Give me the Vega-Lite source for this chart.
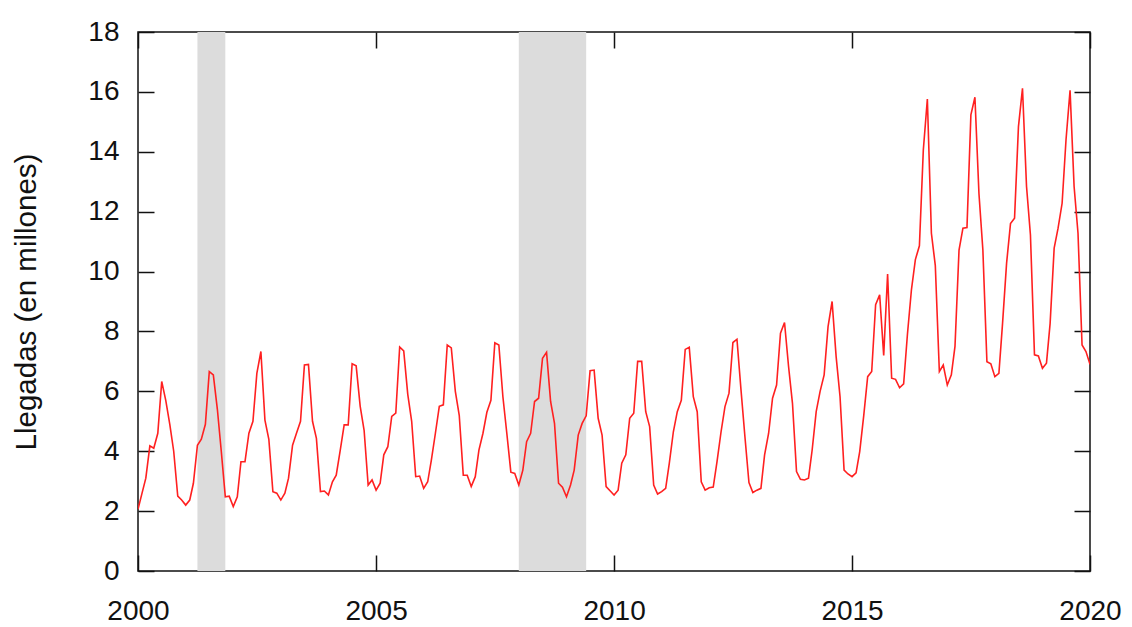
{
  "$schema": "https://vega.github.io/schema/vega-lite/v6.json",
  "width": 952,
  "height": 539,
  "autosize": {"type": "none"},
  "padding": {"left": 138, "top": 32, "right": 42, "bottom": 56},
  "background": "white",
  "config": {
    "view": {"stroke": "#111", "strokeWidth": 1.5},
    "font": "Liberation Sans",
    "axis": {
      "grid": false,
      "domain": false,
      "tickColor": "#111",
      "tickWidth": 1.5,
      "labelFont": "Liberation Sans",
      "labelFontSize": 28,
      "labelColor": "#111",
      "titleFont": "Liberation Sans",
      "titleFontSize": 29.5,
      "titleFontWeight": "normal",
      "titleColor": "#111"
    }
  },
  "datasets": {
    "llegadas": [
      {"fecha": "2000-01-01", "valor": 2.06}, {"fecha": "2000-02-01", "valor": 2.6}, {"fecha": "2000-03-01", "valor": 3.1}, {"fecha": "2000-04-01", "valor": 4.18}, {"fecha": "2000-05-01", "valor": 4.1}, {"fecha": "2000-06-01", "valor": 4.6}, {"fecha": "2000-07-01", "valor": 6.33}, {"fecha": "2000-08-01", "valor": 5.7}, {"fecha": "2000-09-01", "valor": 4.9}, {"fecha": "2000-10-01", "valor": 4.0}, {"fecha": "2000-11-01", "valor": 2.5}, {"fecha": "2000-12-01", "valor": 2.37},
      {"fecha": "2001-01-01", "valor": 2.2}, {"fecha": "2001-02-01", "valor": 2.37}, {"fecha": "2001-03-01", "valor": 2.93}, {"fecha": "2001-04-01", "valor": 4.2}, {"fecha": "2001-05-01", "valor": 4.4}, {"fecha": "2001-06-01", "valor": 4.9}, {"fecha": "2001-07-01", "valor": 6.66}, {"fecha": "2001-08-01", "valor": 6.55}, {"fecha": "2001-09-01", "valor": 5.4}, {"fecha": "2001-10-01", "valor": 4.0}, {"fecha": "2001-11-01", "valor": 2.48}, {"fecha": "2001-12-01", "valor": 2.5},
      {"fecha": "2002-01-01", "valor": 2.15}, {"fecha": "2002-02-01", "valor": 2.48}, {"fecha": "2002-03-01", "valor": 3.65}, {"fecha": "2002-04-01", "valor": 3.65}, {"fecha": "2002-05-01", "valor": 4.6}, {"fecha": "2002-06-01", "valor": 5.0}, {"fecha": "2002-07-01", "valor": 6.6}, {"fecha": "2002-08-01", "valor": 7.33}, {"fecha": "2002-09-01", "valor": 5.04}, {"fecha": "2002-10-01", "valor": 4.4}, {"fecha": "2002-11-01", "valor": 2.65}, {"fecha": "2002-12-01", "valor": 2.6},
      {"fecha": "2003-01-01", "valor": 2.37}, {"fecha": "2003-02-01", "valor": 2.6}, {"fecha": "2003-03-01", "valor": 3.1}, {"fecha": "2003-04-01", "valor": 4.2}, {"fecha": "2003-05-01", "valor": 4.6}, {"fecha": "2003-06-01", "valor": 5.0}, {"fecha": "2003-07-01", "valor": 6.88}, {"fecha": "2003-08-01", "valor": 6.9}, {"fecha": "2003-09-01", "valor": 5.0}, {"fecha": "2003-10-01", "valor": 4.43}, {"fecha": "2003-11-01", "valor": 2.65}, {"fecha": "2003-12-01", "valor": 2.67},
      {"fecha": "2004-01-01", "valor": 2.54}, {"fecha": "2004-02-01", "valor": 2.98}, {"fecha": "2004-03-01", "valor": 3.2}, {"fecha": "2004-04-01", "valor": 4.04}, {"fecha": "2004-05-01", "valor": 4.88}, {"fecha": "2004-06-01", "valor": 4.88}, {"fecha": "2004-07-01", "valor": 6.92}, {"fecha": "2004-08-01", "valor": 6.85}, {"fecha": "2004-09-01", "valor": 5.5}, {"fecha": "2004-10-01", "valor": 4.7}, {"fecha": "2004-11-01", "valor": 2.87}, {"fecha": "2004-12-01", "valor": 3.04},
      {"fecha": "2005-01-01", "valor": 2.7}, {"fecha": "2005-02-01", "valor": 2.93}, {"fecha": "2005-03-01", "valor": 3.88}, {"fecha": "2005-04-01", "valor": 4.15}, {"fecha": "2005-05-01", "valor": 5.16}, {"fecha": "2005-06-01", "valor": 5.27}, {"fecha": "2005-07-01", "valor": 7.48}, {"fecha": "2005-08-01", "valor": 7.35}, {"fecha": "2005-09-01", "valor": 5.9}, {"fecha": "2005-10-01", "valor": 5.0}, {"fecha": "2005-11-01", "valor": 3.15}, {"fecha": "2005-12-01", "valor": 3.17},
      {"fecha": "2006-01-01", "valor": 2.76}, {"fecha": "2006-02-01", "valor": 2.98}, {"fecha": "2006-03-01", "valor": 3.7}, {"fecha": "2006-04-01", "valor": 4.6}, {"fecha": "2006-05-01", "valor": 5.5}, {"fecha": "2006-06-01", "valor": 5.55}, {"fecha": "2006-07-01", "valor": 7.55}, {"fecha": "2006-08-01", "valor": 7.45}, {"fecha": "2006-09-01", "valor": 6.0}, {"fecha": "2006-10-01", "valor": 5.2}, {"fecha": "2006-11-01", "valor": 3.2}, {"fecha": "2006-12-01", "valor": 3.2},
      {"fecha": "2007-01-01", "valor": 2.82}, {"fecha": "2007-02-01", "valor": 3.15}, {"fecha": "2007-03-01", "valor": 4.04}, {"fecha": "2007-04-01", "valor": 4.6}, {"fecha": "2007-05-01", "valor": 5.3}, {"fecha": "2007-06-01", "valor": 5.7}, {"fecha": "2007-07-01", "valor": 7.62}, {"fecha": "2007-08-01", "valor": 7.55}, {"fecha": "2007-09-01", "valor": 5.82}, {"fecha": "2007-10-01", "valor": 4.6}, {"fecha": "2007-11-01", "valor": 3.3}, {"fecha": "2007-12-01", "valor": 3.26},
      {"fecha": "2008-01-01", "valor": 2.87}, {"fecha": "2008-02-01", "valor": 3.37}, {"fecha": "2008-03-01", "valor": 4.32}, {"fecha": "2008-04-01", "valor": 4.6}, {"fecha": "2008-05-01", "valor": 5.66}, {"fecha": "2008-06-01", "valor": 5.77}, {"fecha": "2008-07-01", "valor": 7.1}, {"fecha": "2008-08-01", "valor": 7.3}, {"fecha": "2008-09-01", "valor": 5.66}, {"fecha": "2008-10-01", "valor": 4.93}, {"fecha": "2008-11-01", "valor": 2.93}, {"fecha": "2008-12-01", "valor": 2.8},
      {"fecha": "2009-01-01", "valor": 2.48}, {"fecha": "2009-02-01", "valor": 2.87}, {"fecha": "2009-03-01", "valor": 3.37}, {"fecha": "2009-04-01", "valor": 4.54}, {"fecha": "2009-05-01", "valor": 4.93}, {"fecha": "2009-06-01", "valor": 5.18}, {"fecha": "2009-07-01", "valor": 6.69}, {"fecha": "2009-08-01", "valor": 6.71}, {"fecha": "2009-09-01", "valor": 5.1}, {"fecha": "2009-10-01", "valor": 4.54}, {"fecha": "2009-11-01", "valor": 2.82}, {"fecha": "2009-12-01", "valor": 2.68},
      {"fecha": "2010-01-01", "valor": 2.54}, {"fecha": "2010-02-01", "valor": 2.7}, {"fecha": "2010-03-01", "valor": 3.6}, {"fecha": "2010-04-01", "valor": 3.88}, {"fecha": "2010-05-01", "valor": 5.1}, {"fecha": "2010-06-01", "valor": 5.27}, {"fecha": "2010-07-01", "valor": 7.0}, {"fecha": "2010-08-01", "valor": 7.0}, {"fecha": "2010-09-01", "valor": 5.32}, {"fecha": "2010-10-01", "valor": 4.82}, {"fecha": "2010-11-01", "valor": 2.87}, {"fecha": "2010-12-01", "valor": 2.57},
      {"fecha": "2011-01-01", "valor": 2.65}, {"fecha": "2011-02-01", "valor": 2.76}, {"fecha": "2011-03-01", "valor": 3.6}, {"fecha": "2011-04-01", "valor": 4.65}, {"fecha": "2011-05-01", "valor": 5.32}, {"fecha": "2011-06-01", "valor": 5.7}, {"fecha": "2011-07-01", "valor": 7.4}, {"fecha": "2011-08-01", "valor": 7.47}, {"fecha": "2011-09-01", "valor": 5.82}, {"fecha": "2011-10-01", "valor": 5.32}, {"fecha": "2011-11-01", "valor": 2.98}, {"fecha": "2011-12-01", "valor": 2.7},
      {"fecha": "2012-01-01", "valor": 2.78}, {"fecha": "2012-02-01", "valor": 2.8}, {"fecha": "2012-03-01", "valor": 3.65}, {"fecha": "2012-04-01", "valor": 4.65}, {"fecha": "2012-05-01", "valor": 5.49}, {"fecha": "2012-06-01", "valor": 5.94}, {"fecha": "2012-07-01", "valor": 7.63}, {"fecha": "2012-08-01", "valor": 7.74}, {"fecha": "2012-09-01", "valor": 6.05}, {"fecha": "2012-10-01", "valor": 4.49}, {"fecha": "2012-11-01", "valor": 2.95}, {"fecha": "2012-12-01", "valor": 2.62},
      {"fecha": "2013-01-01", "valor": 2.7}, {"fecha": "2013-02-01", "valor": 2.76}, {"fecha": "2013-03-01", "valor": 3.88}, {"fecha": "2013-04-01", "valor": 4.6}, {"fecha": "2013-05-01", "valor": 5.77}, {"fecha": "2013-06-01", "valor": 6.21}, {"fecha": "2013-07-01", "valor": 7.94}, {"fecha": "2013-08-01", "valor": 8.3}, {"fecha": "2013-09-01", "valor": 6.83}, {"fecha": "2013-10-01", "valor": 5.6}, {"fecha": "2013-11-01", "valor": 3.32}, {"fecha": "2013-12-01", "valor": 3.06},
      {"fecha": "2014-01-01", "valor": 3.04}, {"fecha": "2014-02-01", "valor": 3.1}, {"fecha": "2014-03-01", "valor": 4.04}, {"fecha": "2014-04-01", "valor": 5.32}, {"fecha": "2014-05-01", "valor": 6.0}, {"fecha": "2014-06-01", "valor": 6.55}, {"fecha": "2014-07-01", "valor": 8.16}, {"fecha": "2014-08-01", "valor": 9.0}, {"fecha": "2014-09-01", "valor": 7.16}, {"fecha": "2014-10-01", "valor": 5.82}, {"fecha": "2014-11-01", "valor": 3.37}, {"fecha": "2014-12-01", "valor": 3.24},
      {"fecha": "2015-01-01", "valor": 3.15}, {"fecha": "2015-02-01", "valor": 3.28}, {"fecha": "2015-03-01", "valor": 3.99}, {"fecha": "2015-04-01", "valor": 5.2}, {"fecha": "2015-05-01", "valor": 6.49}, {"fecha": "2015-06-01", "valor": 6.66}, {"fecha": "2015-07-01", "valor": 8.89}, {"fecha": "2015-08-01", "valor": 9.22}, {"fecha": "2015-09-01", "valor": 7.2}, {"fecha": "2015-10-01", "valor": 9.92}, {"fecha": "2015-11-01", "valor": 6.44}, {"fecha": "2015-12-01", "valor": 6.4},
      {"fecha": "2016-01-01", "valor": 6.12}, {"fecha": "2016-02-01", "valor": 6.25}, {"fecha": "2016-03-01", "valor": 7.9}, {"fecha": "2016-04-01", "valor": 9.4}, {"fecha": "2016-05-01", "valor": 10.4}, {"fecha": "2016-06-01", "valor": 10.86}, {"fecha": "2016-07-01", "valor": 14.06}, {"fecha": "2016-08-01", "valor": 15.76}, {"fecha": "2016-09-01", "valor": 11.28}, {"fecha": "2016-10-01", "valor": 10.2}, {"fecha": "2016-11-01", "valor": 6.66}, {"fecha": "2016-12-01", "valor": 6.88},
      {"fecha": "2017-01-01", "valor": 6.21}, {"fecha": "2017-02-01", "valor": 6.55}, {"fecha": "2017-03-01", "valor": 7.5}, {"fecha": "2017-04-01", "valor": 10.72}, {"fecha": "2017-05-01", "valor": 11.45}, {"fecha": "2017-06-01", "valor": 11.47}, {"fecha": "2017-07-01", "valor": 15.23}, {"fecha": "2017-08-01", "valor": 15.82}, {"fecha": "2017-09-01", "valor": 12.6}, {"fecha": "2017-10-01", "valor": 10.72}, {"fecha": "2017-11-01", "valor": 6.99}, {"fecha": "2017-12-01", "valor": 6.92},
      {"fecha": "2018-01-01", "valor": 6.49}, {"fecha": "2018-02-01", "valor": 6.6}, {"fecha": "2018-03-01", "valor": 8.27}, {"fecha": "2018-04-01", "valor": 10.28}, {"fecha": "2018-05-01", "valor": 11.6}, {"fecha": "2018-06-01", "valor": 11.78}, {"fecha": "2018-07-01", "valor": 14.84}, {"fecha": "2018-08-01", "valor": 16.12}, {"fecha": "2018-09-01", "valor": 12.84}, {"fecha": "2018-10-01", "valor": 11.22}, {"fecha": "2018-11-01", "valor": 7.22}, {"fecha": "2018-12-01", "valor": 7.18},
      {"fecha": "2019-01-01", "valor": 6.77}, {"fecha": "2019-02-01", "valor": 6.94}, {"fecha": "2019-03-01", "valor": 8.27}, {"fecha": "2019-04-01", "valor": 10.78}, {"fecha": "2019-05-01", "valor": 11.45}, {"fecha": "2019-06-01", "valor": 12.28}, {"fecha": "2019-07-01", "valor": 14.4}, {"fecha": "2019-08-01", "valor": 16.05}, {"fecha": "2019-09-01", "valor": 12.84}, {"fecha": "2019-10-01", "valor": 11.28}, {"fecha": "2019-11-01", "valor": 7.55}, {"fecha": "2019-12-01", "valor": 7.33},
      {"fecha": "2020-01-01", "valor": 6.9}
    ],
    "recesiones": [
      {"inicio": "2001-04-01", "fin": "2001-11-01"},
      {"inicio": "2008-01-01", "fin": "2009-06-01"}
    ]
  },
  "resolve": {"axis": {"x": "independent", "y": "independent"}},
  "layer": [
    {
      "data": {"name": "recesiones"},
      "mark": {"type": "rect", "color": "#dcdcdc", "opacity": 1},
      "encoding": {
        "x": {
          "field": "inicio", "type": "temporal",
          "scale": {"type": "utc", "domain": [{"year": 2000, "month": 1, "date": 1, "utc": true}, {"year": 2020, "month": 1, "date": 1, "utc": true}]},
          "axis": {
            "orient": "bottom", "title": null, "format": "%Y",
            "values": [{"year": 2000, "month": 1, "date": 1, "utc": true}, {"year": 2005, "month": 1, "date": 1, "utc": true}, {"year": 2010, "month": 1, "date": 1, "utc": true}, {"year": 2015, "month": 1, "date": 1, "utc": true}, {"year": 2020, "month": 1, "date": 1, "utc": true}],
            "tickSize": -16, "labelPadding": 42, "labelFlush": false, "labelOverlap": false, "labelBaseline": "top"
          }
        },
        "x2": {"field": "fin"}
      }
    },
    {
      "data": {"name": "llegadas"},
      "mark": {"type": "line", "color": "#ff2020", "strokeWidth": 1.6, "clip": true},
      "encoding": {
        "x": {
          "field": "fecha", "type": "temporal",
          "axis": {
            "orient": "top", "title": null, "labels": false,
            "values": [{"year": 2000, "month": 1, "date": 1, "utc": true}, {"year": 2005, "month": 1, "date": 1, "utc": true}, {"year": 2010, "month": 1, "date": 1, "utc": true}, {"year": 2015, "month": 1, "date": 1, "utc": true}, {"year": 2020, "month": 1, "date": 1, "utc": true}],
            "tickSize": -16
          }
        },
        "y": {
          "field": "valor", "type": "quantitative",
          "scale": {"domain": [0, 18], "nice": false, "zero": true},
          "axis": {
            "orient": "left", "title": "Llegadas (en millones)",
            "values": [0, 2, 4, 6, 8, 10, 12, 14, 16, 18],
            "tickSize": -16, "labelPadding": 35,
            "titleAngle": -90, "titleX": -112, "titleY": 269.5,
            "titleAlign": "center", "titleBaseline": "middle"
          }
        }
      }
    },
    {
      "data": {"name": "llegadas"},
      "mark": {"type": "line", "opacity": 0},
      "encoding": {
        "x": {"field": "fecha", "type": "temporal", "axis": null},
        "y": {
          "field": "valor", "type": "quantitative",
          "axis": {
            "orient": "right", "title": null, "labels": false,
            "values": [0, 2, 4, 6, 8, 10, 12, 14, 16, 18],
            "tickSize": -16
          }
        }
      }
    }
  ]
}
